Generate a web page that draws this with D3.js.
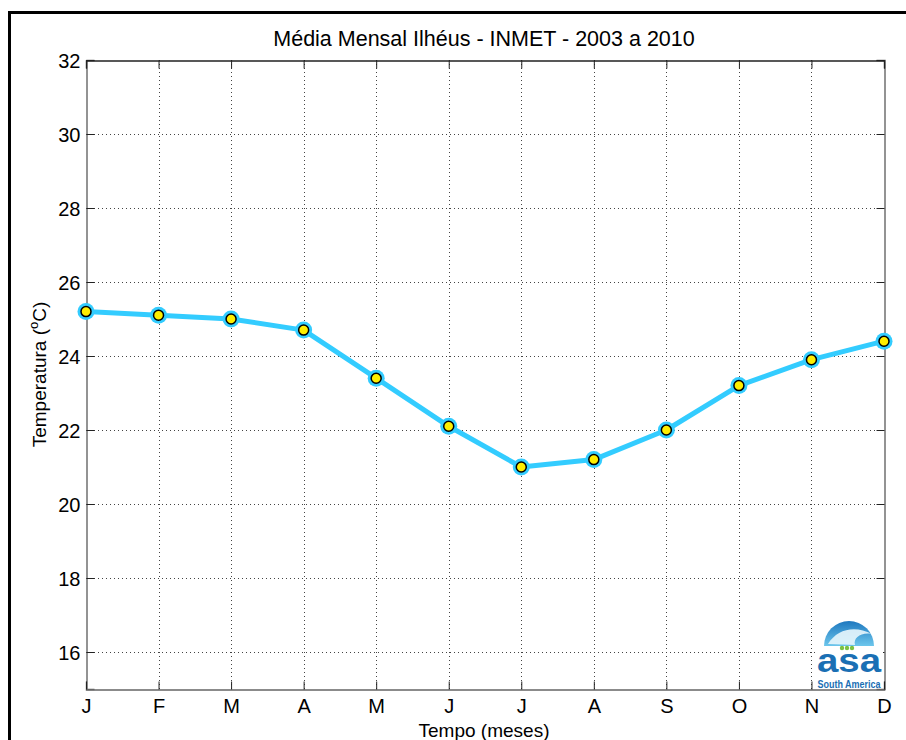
<!DOCTYPE html>
<html>
<head>
<meta charset="utf-8">
<script src="https://cdn.jsdelivr.net/npm/d3@7"></script>
<style>
  html, body { margin: 0; padding: 0; background: #fff; }
  svg { display: block; font-family: "Liberation Sans", Arial, sans-serif; }
</style>
</head>
<body>
<script>
const months = ['J', 'F', 'M', 'A', 'M', 'J', 'J', 'A', 'S', 'O', 'N', 'D'];
const temps = [25.2, 25.1, 25.0, 24.7, 23.4, 22.1, 21.0, 21.2, 22.0, 23.2, 23.9, 24.4];
const yTicks = [16, 18, 20, 22, 24, 26, 28, 30, 32];

const W = 906, H = 740;
const box = { left: 86, right: 884, top: 60, bottom: 689 };

const svg = d3.select('body').append('svg').attr('width', W).attr('height', H);

// outer figure frame (runs off the right and bottom edges)
svg.append('rect')
  .attr('x', 9.5).attr('y', 12.5)
  .attr('width', 1000).attr('height', 1000)
  .attr('fill', 'none').attr('stroke', '#000').attr('stroke-width', 3);

const x = d3.scaleLinear().domain([0, 11]).range([box.left, box.right]);
const y = d3.scaleLinear().domain([15, 32]).range([box.bottom, box.top]);

const idx = d3.range(months.length);

// dotted grid
const grid = svg.append('g').attr('stroke', '#444').attr('stroke-width', 1)
  .attr('stroke-dasharray', '1,3');
grid.selectAll('.gx').data(idx.slice(1, -1)).join('line')
  .attr('x1', d => Math.round(x(d)) + 0.5).attr('x2', d => Math.round(x(d)) + 0.5)
  .attr('y1', box.top).attr('y2', box.bottom);
grid.selectAll('.gy').data(yTicks.slice(0, -1)).join('line')
  .attr('y1', d => Math.round(y(d)) + 0.5).attr('y2', d => Math.round(y(d)) + 0.5)
  .attr('x1', box.left).attr('x2', box.right);

// axes with inward ticks
const tickLen = 8;
const axisColor = '#666';
const yl = svg.append('g').attr('transform', `translate(${box.left + 0.5},0)`)
  .call(d3.axisLeft(y).tickValues(yTicks).tickSize(-tickLen).tickPadding(6));
const yr = svg.append('g').attr('transform', `translate(${box.right + 0.5},0)`)
  .call(d3.axisRight(y).tickValues(yTicks).tickSize(-tickLen).tickFormat(''));
const xb = svg.append('g').attr('transform', `translate(0,${box.bottom + 0.5})`)
  .call(d3.axisBottom(x).tickValues(idx).tickSize(-tickLen).tickPadding(9)
    .tickFormat(i => months[i]));
const xt = svg.append('g').attr('transform', `translate(0,${box.top + 0.5})`)
  .call(d3.axisTop(x).tickValues(idx).tickSize(-tickLen).tickFormat(''));

[yl, yr, xb, xt].forEach(g => {
  g.select('.domain').attr('stroke', axisColor).attr('stroke-width', 1.4);
  g.selectAll('.tick line').attr('stroke', '#222');
  g.selectAll('text').attr('fill', '#000').attr('font-size', 20)
    .attr('font-family', '"Liberation Sans", Arial, sans-serif');
});
xt.select('.domain').attr('stroke', '#222');
yl.selectAll('text').attr('dy', '0.36em');

// series
const lineColor = '#33ccff';
const line = d3.line().x((d, i) => x(i)).y(d => y(d));
svg.append('path').datum(temps)
  .attr('d', line).attr('fill', 'none')
  .attr('stroke', lineColor).attr('stroke-width', 5).attr('stroke-linejoin', 'round');

const pts = svg.append('g').selectAll('g').data(temps).join('g')
  .attr('transform', (d, i) => `translate(${x(i)},${y(d)})`);
pts.append('circle').attr('r', 8.5).attr('fill', lineColor);
pts.append('circle').attr('r', 5).attr('fill', '#ffee00')
  .attr('stroke', '#000').attr('stroke-width', 1.5);

// title and labels
svg.append('text').attr('x', 484).attr('y', 46).attr('text-anchor', 'middle')
  .attr('font-size', 21.5).text('Média Mensal Ilhéus - INMET - 2003 a 2010');

svg.append('text').attr('x', 484).attr('y', 737).attr('text-anchor', 'middle')
  .attr('font-size', 19).text('Tempo (meses)');

const ylab = svg.append('text')
  .attr('transform', `translate(46,${(box.top + box.bottom) / 2}) rotate(-90)`)
  .attr('text-anchor', 'middle').attr('font-size', 19);
ylab.append('tspan').text('Temperatura (');
ylab.append('tspan').attr('font-size', 13).attr('dy', -8).text('o');
ylab.append('tspan').attr('dy', 8).text('C)');

// ASA South America logo
const logo = svg.append('g').attr('transform', 'translate(849,646)');
const defs = svg.append('defs');
const grad = defs.append('linearGradient').attr('id', 'dome')
  .attr('x1', 0).attr('y1', 0).attr('x2', 0).attr('y2', 1);
grad.append('stop').attr('offset', 0).attr('stop-color', '#1e78bf');
grad.append('stop').attr('offset', 1).attr('stop-color', '#6cc6ec');
logo.append('rect').attr('x', -34).attr('y', -28).attr('width', 68).attr('height', 42).attr('fill', '#fff');
logo.append('path')
  .attr('d', d3.arc()({ innerRadius: 0, outerRadius: 25, startAngle: -Math.PI / 2, endAngle: Math.PI / 2 }))
  .attr('fill', 'url(#dome)');
logo.append('path')
  .attr('d', 'M-21,-2 C-12,-17 6,-21 23,-12 C12,-14 4,-8 6,-1 Z')
  .attr('fill', '#e8f6fc').attr('opacity', 0.9);
[-7, -2, 3].forEach(cx => logo.append('circle').attr('cx', cx).attr('cy', 2).attr('r', 2.2).attr('fill', '#7cc242'));
logo.append('text').attr('x', 0).attr('y', 26).attr('text-anchor', 'middle')
  .attr('font-size', 34).attr('font-weight', 'bold').attr('fill', '#1a6fb4')
  .attr('textLength', 64).attr('lengthAdjust', 'spacingAndGlyphs').text('asa');
logo.append('text').attr('x', 0).attr('y', 42).attr('text-anchor', 'middle')
  .attr('font-size', 10).attr('font-weight', 'bold').attr('fill', '#1a6fb4')
  .attr('textLength', 63).attr('lengthAdjust', 'spacingAndGlyphs').text('South America');
</script>
</body>
</html>
